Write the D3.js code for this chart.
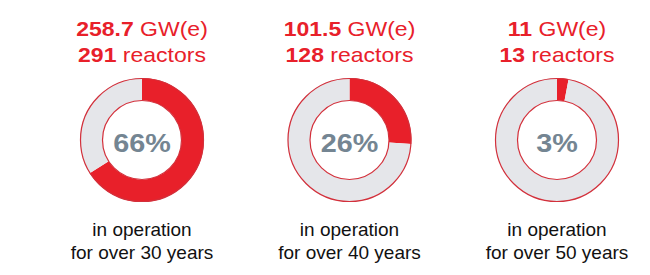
<!DOCTYPE html>
<html><head><meta charset="utf-8">
<script src="https://cdn.jsdelivr.net/npm/d3@7"></script>
<style>html,body{margin:0;padding:0;background:#fff;}</style>
</head><body>
<svg id="c" width="650" height="275"></svg>
<script>
const capacity = ["258.7", "101.5", "11"];
const reactors = ["291", "128", "13"];
const shares = [66, 26, 3];
const ages = ["30", "40", "50"];

const W = 650, H = 275;
const svg = d3.select("#c");
const x = d3.scalePoint().domain(d3.range(shares.length)).range([142, 557]);
const RED = "#e8202a", GRAY = "#e5e6ea", EDGE = "#d3303b", PCT = "#748592";
const rOut = 62, rIn = 39.5, cy = 140;
const FONT = "'Liberation Sans', Arial, Helvetica, sans-serif";
const SX = 1.15;

const pie = d3.pie().sort(null).value(d => d);
const arc = d3.arc().innerRadius(rIn).outerRadius(rOut);

shares.forEach((s, i) => {
  const g = svg.append("g").attr("transform", `translate(${x(i)},0)`);
  const hdr = g.append("g").attr("transform", `scale(${SX},1)`);
  const t1 = hdr.append("text").attr("y", 36).attr("text-anchor", "middle")
    .attr("font-family", FONT).attr("font-size", 20).attr("fill", RED);
  t1.append("tspan").attr("font-weight", "bold").text(capacity[i]);
  t1.append("tspan").text(" GW(e)");
  const t2 = hdr.append("text").attr("y", 62).attr("text-anchor", "middle")
    .attr("font-family", FONT).attr("font-size", 20).attr("fill", RED);
  t2.append("tspan").attr("font-weight", "bold").text(reactors[i]);
  t2.append("tspan").text(" reactors");

  const d = g.append("g").attr("transform", `translate(0,${cy})`);
  d.selectAll("path").data(pie([s, 100 - s])).join("path")
    .attr("d", arc).attr("fill", (p, j) => j === 0 ? RED : GRAY);
  d.append("circle").attr("r", rOut - 0.5).attr("fill", "none").attr("stroke", EDGE).attr("stroke-width", 1.2);
  d.append("circle").attr("r", rIn).attr("fill", "#fff").attr("stroke", EDGE).attr("stroke-width", 1.2);
  d.append("g").attr("transform", `scale(${SX},1)`)
    .append("text").attr("y", 12).attr("text-anchor", "middle")
    .attr("font-family", FONT).attr("font-weight", "bold").attr("font-size", 25)
    .attr("fill", PCT).text(s + "%");

  g.append("text").attr("y", 236).attr("text-anchor", "middle")
    .attr("font-family", FONT).attr("font-size", 19).attr("fill", "#111")
    .text("in operation");
  g.append("text").attr("y", 259).attr("text-anchor", "middle")
    .attr("font-family", FONT).attr("font-size", 19).attr("fill", "#111")
    .text(`for over ${ages[i]} years`);
});
</script>
</body></html>
